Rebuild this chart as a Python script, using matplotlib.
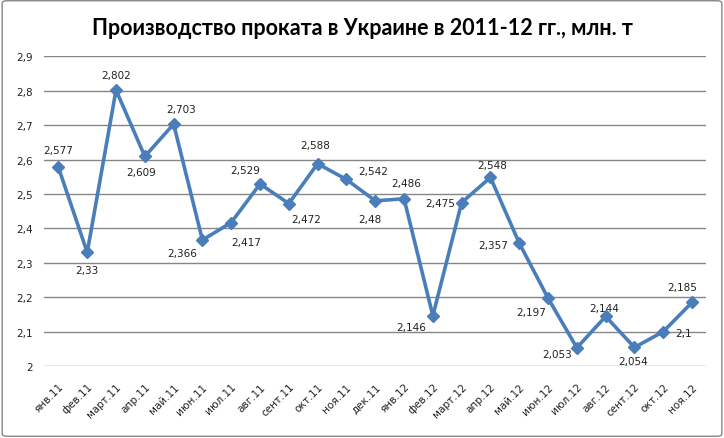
import matplotlib
matplotlib.use("Agg")
import matplotlib.pyplot as plt
from matplotlib.patches import FancyBboxPatch

# Months (Jan 2011 - Nov 2012) and production, mln t
months = ["янв.11", "фев.11", "март.11", "апр.11", "май.11", "июн.11",
          "июл.11", "авг.11", "сент.11", "окт.11", "ноя.11", "дек.11",
          "янв.12", "фев.12", "март.12", "апр.12", "май.12", "июн.12",
          "июл.12", "авг.12", "сент.12", "окт.12", "ноя.12"]
values = [2.577, 2.33, 2.802, 2.609, 2.703, 2.366,
          2.417, 2.529, 2.472, 2.588, 2.542, 2.48,
          2.486, 2.146, 2.475, 2.548, 2.357, 2.197,
          2.053, 2.144, 2.054, 2.1, 2.185]
yticks = [2.0, 2.1, 2.2, 2.3, 2.4, 2.5, 2.6, 2.7, 2.8, 2.9]

# where each data label sits relative to its point (pixels, y up)
label_offsets = [(0, 17), (0, -18), (0, 15), (-4, -16), (7, 15), (-20, -13),
                 (15, -19), (-15, 14), (17, -15), (-2, 19), (27, 8), (-5, -18),
                 (2, 16), (-22, -11), (-21, 0), (2, 12), (-26, -2), (-17, -14),
                 (-20, -6), (-1, 8), (-1, -14), (20, -1), (-10, 15)]

BLUE = "#4A7EBB"

fig = plt.figure(figsize=(7.24, 4.39), dpi=100)
ax = fig.add_axes([0.0608, 0.164, 0.915, 0.7055])

x = list(range(len(months)))
ax.plot(x, values, color=BLUE, linewidth=2.6, marker="D", markersize=6,
        markerfacecolor=BLUE, markeredgecolor=BLUE, zorder=3)

for i, v in enumerate(values):
    txt = ("%g" % v).replace(".", ",")
    ax.annotate(txt, (i, v), xytext=label_offsets[i], textcoords="offset pixels",
                ha="center", va="center", fontsize=7.5, color="#222222")

ax.set_xlim(-0.5, len(months) - 0.5)
ax.set_ylim(2.0, 2.9)
ax.set_yticks(yticks)
ax.set_yticklabels([("%g" % t).replace(".", ",") for t in yticks],
                   fontsize=7.5, color="#222222")
ax.set_xticks(x)
ax.set_xticklabels(months, rotation=45, ha="right", rotation_mode="anchor",
                   fontsize=7.5, color="#222222")
ax.tick_params(axis="both", length=0)
ax.tick_params(axis="y", pad=8)
ax.tick_params(axis="x", pad=11)
ax.grid(axis="y", color="#868686", linewidth=1)
ax.set_axisbelow(True)
for s in ax.spines.values():
    s.set_visible(False)

fig.text(0.5, 0.936, "Производство проката в Украине в 2011-12 гг., млн. т",
         ha="center", va="center", fontsize=15.5, fontweight="bold",
         family="Lato")

# outer chart border
border = FancyBboxPatch((0.003, 0.004), 0.994, 0.992,
                        boxstyle="round,pad=0,rounding_size=0.006",
                        transform=fig.transFigure, fill=False,
                        edgecolor="#868686", linewidth=1)
fig.patches.append(border)

fig.savefig("out.png", dpi=100)
